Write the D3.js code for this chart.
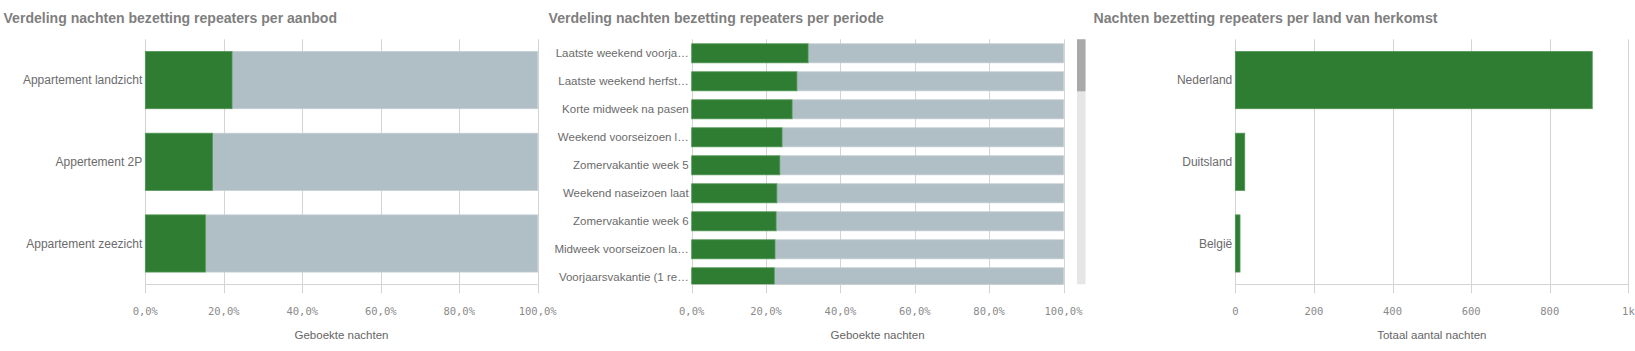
<!DOCTYPE html>
<html>
<head>
<meta charset="utf-8">
<script src="https://cdn.jsdelivr.net/npm/d3@7"></script>
<style>
  html, body { margin: 0; padding: 0; background: #fff; }
  svg { display: block; }
</style>
</head>
<body>
<div id="chart"></div>
<script>
// data
const aanbodCategories = ["Appartement landzicht", "Appertement 2P", "Appartement zeezicht"];
const aanbodShare = [22.1, 17.1, 15.3];

const periodeCategories = [
  "Laatste weekend voorja\u2026",
  "Laatste weekend herfst\u2026",
  "Korte midweek na pasen",
  "Weekend voorseizoen l\u2026",
  "Zomervakantie week 5",
  "Weekend naseizoen laat",
  "Zomervakantie week 6",
  "Midweek voorseizoen la\u2026",
  "Voorjaarsvakantie (1 re\u2026"
];
const periodeShare = [31.3, 28.3, 27.0, 24.3, 23.7, 22.9, 22.7, 22.4, 22.2];

const landCategories = ["Nederland", "Duitsland", "België"];
const landNights = [908, 24, 12];

const pctTicks = [0, 20, 40, 60, 80, 100];
const nightTicks = [0, 200, 400, 600, 800, 1000];

const GREEN = "#2e7d32", GREY = "#b0bec5", GRID = "#d4d4d4";

const nl = d3.formatLocale({ decimal: ",", thousands: ".", grouping: [3], currency: ["€", ""] });
const pctFormat = d => nl.format(".1f")(d) + "%";
const nightFormat = d => d >= 1000 ? (d / 1000) + "k" : d;

const W = 1635, H = 351;
const svg = d3.select("#chart").append("svg")
    .attr("width", W)
    .attr("height", H);

const plotTop = 39.3, plotBottom = 284.3;

function panel(opts) {
  const g = svg.append("g");

  // title
  g.append("text")
    .attr("x", opts.titleX)
    .attr("y", 23)
    .attr("textLength", opts.titleW)
    .attr("lengthAdjust", "spacingAndGlyphs")
    .style("font", "bold 14px 'Liberation Sans', Arial, sans-serif")
    .style("fill", "#7f7f7f")
    .text(opts.title);

  const x = d3.scaleLinear().domain(opts.domain).range([opts.left, opts.right]);
  const y = d3.scaleBand()
      .domain(opts.cats)
      .range([plotTop, opts.bandBottom || plotBottom])
      .paddingInner(opts.padInner)
      .paddingOuter(opts.padOuter);

  // grid + ticks
  g.append("g").selectAll("line")
    .data(opts.ticks)
    .enter().append("line")
      .attr("x1", d => Math.round(x(d)) + 0.5)
      .attr("x2", d => Math.round(x(d)) + 0.5)
      .attr("y1", plotTop)
      .attr("y2", plotBottom + 9)
      .attr("stroke", GRID)
      .attr("stroke-width", 1);

  // axis line
  g.append("line")
    .attr("x1", opts.left).attr("x2", opts.right)
    .attr("y1", Math.round(plotBottom) + 0.5).attr("y2", Math.round(plotBottom) + 0.5)
    .attr("stroke", GRID);

  // tick labels
  g.append("g").selectAll("text")
    .data(opts.ticks)
    .enter().append("text")
      .attr("x", d => x(d))
      .attr("y", 315)
      .attr("text-anchor", "middle")
      .style("font", "10.5px 'DejaVu Sans Mono', monospace")
      .style("fill", "#8a8a8a")
      .text(opts.tickFormat);

  // axis title
  g.append("text")
    .attr("x", (opts.left + opts.right) / 2)
    .attr("y", 339)
    .attr("text-anchor", "middle")
    .style("font", "11.5px 'Liberation Sans', Arial, sans-serif")
    .style("fill", "#666")
    .text(opts.axisTitle);

  // category labels
  g.append("g").selectAll("text")
    .data(opts.cats)
    .enter().append("text")
      .attr("x", opts.left - 3)
      .attr("y", d => y(d) + y.bandwidth() / 2)
      .attr("dy", "0.35em")
      .attr("text-anchor", "end")
      .style("font", opts.labelSize + " 'Liberation Sans', Arial, sans-serif")
      .style("fill", "#6b6b6b")
      .text(d => d);

  // bars, clipped to the plot (scrolling list in the middle chart)
  const clipId = "clip" + opts.id;
  svg.append("clipPath").attr("id", clipId)
    .append("rect")
      .attr("x", opts.left - 1).attr("y", plotTop)
      .attr("width", opts.right - opts.left + 2).attr("height", plotBottom - plotTop);

  const bars = g.append("g").attr("clip-path", "url(#" + clipId + ")");

  if (opts.stacked) {
    bars.selectAll(".rest")
      .data(opts.values)
      .enter().append("rect")
        .attr("class", "rest")
        .attr("x", d => x(d))
        .attr("width", d => x(100) - x(d))
        .attr("y", (d, i) => y(opts.cats[i]))
        .attr("height", y.bandwidth())
        .attr("fill", GREY)
        .attr("stroke", "#c3ced3")
        .attr("stroke-width", 0.8);
  }

  bars.selectAll(".val")
    .data(opts.values)
    .enter().append("rect")
      .attr("class", "val")
      .attr("x", x(0))
      .attr("width", d => x(d) - x(0))
      .attr("y", (d, i) => y(opts.cats[i]))
      .attr("height", y.bandwidth())
      .attr("fill", GREEN)
      .attr("stroke", "#4f9553")
      .attr("stroke-width", 0.8);

  return g;
}

panel({
  id: 1, title: "Verdeling nachten bezetting repeaters per aanbod",
  titleX: 3.5, titleW: 333.5,
  left: 145.3, right: 537.7,
  domain: [0, 100], ticks: pctTicks, tickFormat: pctFormat,
  cats: aanbodCategories, values: aanbodShare, stacked: true,
  padInner: 0.3, padOuter: 0.15, labelSize: "12px",
  axisTitle: "Geboekte nachten"
});

panel({
  id: 2, title: "Verdeling nachten bezetting repeaters per periode",
  titleX: 548.5, titleW: 335.4,
  left: 691.7, right: 1063.5,
  domain: [0, 100], ticks: pctTicks, tickFormat: pctFormat,
  cats: periodeCategories, values: periodeShare, stacked: true,
  bandBottom: plotTop + 9 * 28, padInner: 0.32, padOuter: 0.16, labelSize: "11.5px",
  axisTitle: "Geboekte nachten"
});

panel({
  id: 3, title: "Nachten bezetting repeaters per land van herkomst",
  titleX: 1093.5, titleW: 344,
  left: 1235.3, right: 1628.4,
  domain: [0, 1000], ticks: nightTicks, tickFormat: nightFormat,
  cats: landCategories, values: landNights, stacked: false,
  padInner: 0.3, padOuter: 0.15, labelSize: "12px",
  axisTitle: "Totaal aantal nachten"
});

// scrollbar of the middle chart
svg.append("rect")
  .attr("x", 1077).attr("y", plotTop)
  .attr("width", 8.5).attr("height", plotBottom - plotTop)
  .attr("fill", "#e6e6e6");
svg.append("rect")
  .attr("x", 1077).attr("y", plotTop)
  .attr("width", 8.5).attr("height", 52)
  .attr("fill", "#a9a9a9");
</script>
</body>
</html>
